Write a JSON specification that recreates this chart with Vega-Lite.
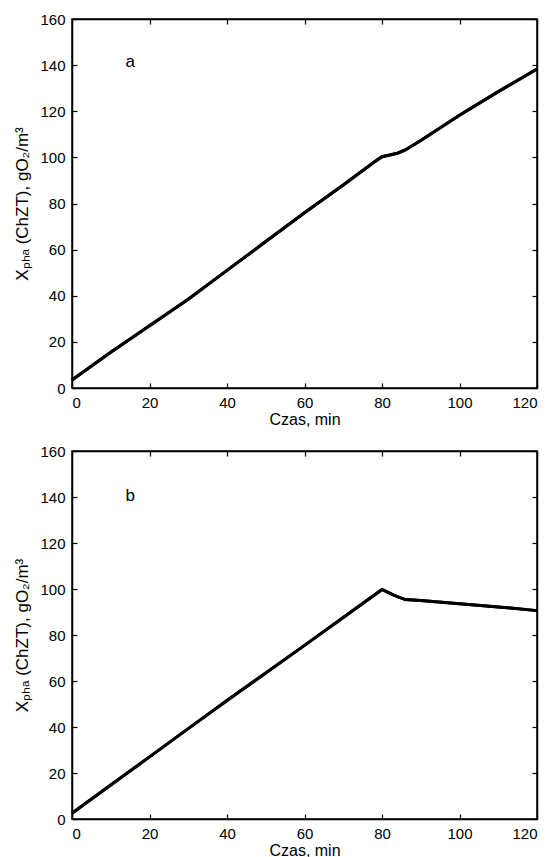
{
  "$schema": "https://vega.github.io/schema/vega-lite/v6.json",
  "background": "white",
  "padding": {"left": 13, "top": 11, "right": 10, "bottom": 2},
  "spacing": 15,
  "config": {
    "font": "Liberation Sans",
    "view": {"stroke": "black", "strokeWidth": 1.5},
    "axis": {
      "domainColor": "black", "domainWidth": 1.5,
      "tickColor": "black", "tickSize": -5, "tickWidth": 1.2,
      "labelColor": "black", "labelFontSize": 15, "labelPadding": 12,
      "titleColor": "black", "titleFontSize": 17, "titleFontWeight": "normal",
      "grid": false
    },
    "axisX": {"labelPadding": 12, "titleFontSize": 16, "titlePadding": 1}
  },
  "datasets": {
    "a": [
      {"t": 0, "v": 3.5}, {"t": 10, "v": 15.5}, {"t": 20, "v": 27}, {"t": 30, "v": 38.5},
      {"t": 40, "v": 51}, {"t": 50, "v": 63.5}, {"t": 60, "v": 76}, {"t": 70, "v": 88},
      {"t": 78, "v": 98}, {"t": 80, "v": 100.3}, {"t": 82, "v": 101}, {"t": 84, "v": 101.8},
      {"t": 86, "v": 103.2}, {"t": 90, "v": 107.3}, {"t": 100, "v": 118.3}, {"t": 110, "v": 128.5},
      {"t": 120, "v": 138.3}
    ],
    "b": [
      {"t": 0, "v": 2.5}, {"t": 10, "v": 14.8}, {"t": 20, "v": 27}, {"t": 30, "v": 39.3},
      {"t": 40, "v": 51.5}, {"t": 50, "v": 63.5}, {"t": 60, "v": 75.5}, {"t": 70, "v": 87.6},
      {"t": 80, "v": 99.8}, {"t": 83, "v": 97.3}, {"t": 86, "v": 95.4}, {"t": 90, "v": 95},
      {"t": 100, "v": 93.6}, {"t": 110, "v": 92.2}, {"t": 120, "v": 90.6}
    ],
    "la": [{"t": 15, "v": 141.5, "lab": "a"}],
    "lb": [{"t": 15, "v": 140.5, "lab": "b"}]
  },
  "vconcat": [
    {
      "width": 465, "height": 369,
      "layer": [
        {
          "data": {"name": "a"},
          "mark": {"type": "line", "color": "black", "strokeWidth": 3},
          "encoding": {
            "x": {"field": "t", "type": "quantitative", "scale": {"domain": [0, 120], "nice": false},
                  "axis": {"values": [0, 20, 40, 60, 80, 100, 120], "title": "Czas, min"}},
            "y": {"field": "v", "type": "quantitative", "scale": {"domain": [0, 160], "nice": false},
                  "axis": {"values": [0, 20, 40, 60, 80, 100, 120, 140, 160], "title": "Xₚₕₐ (ChZT), gO₂/m³", "titlePadding": 8}}
          }
        },
        {
          "data": {"name": "a"},
          "mark": {"type": "line", "color": "black", "strokeWidth": 3},
          "encoding": {
            "x": {"field": "t", "type": "quantitative",
                  "axis": {"orient": "top", "values": [0, 20, 40, 60, 80, 100, 120], "labels": false, "title": null}},
            "y": {"field": "v", "type": "quantitative",
                  "axis": {"orient": "right", "values": [0, 20, 40, 60, 80, 100, 120, 140, 160], "labels": false, "title": null}}
          }
        },
        {
          "data": {"name": "la"},
          "mark": {"type": "text", "fontSize": 17, "color": "black", "align": "center", "baseline": "middle"},
          "encoding": {
            "x": {"field": "t", "type": "quantitative", "axis": null},
            "y": {"field": "v", "type": "quantitative", "axis": null},
            "text": {"field": "lab"}
          }
        }
      ],
      "resolve": {"axis": {"x": "independent", "y": "independent"}}
    },
    {
      "width": 465, "height": 368,
      "layer": [
        {
          "data": {"name": "b"},
          "mark": {"type": "line", "color": "black", "strokeWidth": 3},
          "encoding": {
            "x": {"field": "t", "type": "quantitative", "scale": {"domain": [0, 120], "nice": false},
                  "axis": {"values": [0, 20, 40, 60, 80, 100, 120], "title": "Czas, min"}},
            "y": {"field": "v", "type": "quantitative", "scale": {"domain": [0, 160], "nice": false},
                  "axis": {"values": [0, 20, 40, 60, 80, 100, 120, 140, 160], "title": "Xₚₕₐ (ChZT), gO₂/m³", "titlePadding": 8}}
          }
        },
        {
          "data": {"name": "b"},
          "mark": {"type": "line", "color": "black", "strokeWidth": 3},
          "encoding": {
            "x": {"field": "t", "type": "quantitative",
                  "axis": {"orient": "top", "values": [0, 20, 40, 60, 80, 100, 120], "labels": false, "title": null}},
            "y": {"field": "v", "type": "quantitative",
                  "axis": {"orient": "right", "values": [0, 20, 40, 60, 80, 100, 120, 140, 160], "labels": false, "title": null}}
          }
        },
        {
          "data": {"name": "lb"},
          "mark": {"type": "text", "fontSize": 17, "color": "black", "align": "center", "baseline": "middle"},
          "encoding": {
            "x": {"field": "t", "type": "quantitative", "axis": null},
            "y": {"field": "v", "type": "quantitative", "axis": null},
            "text": {"field": "lab"}
          }
        }
      ],
      "resolve": {"axis": {"x": "independent", "y": "independent"}}
    }
  ]
}
